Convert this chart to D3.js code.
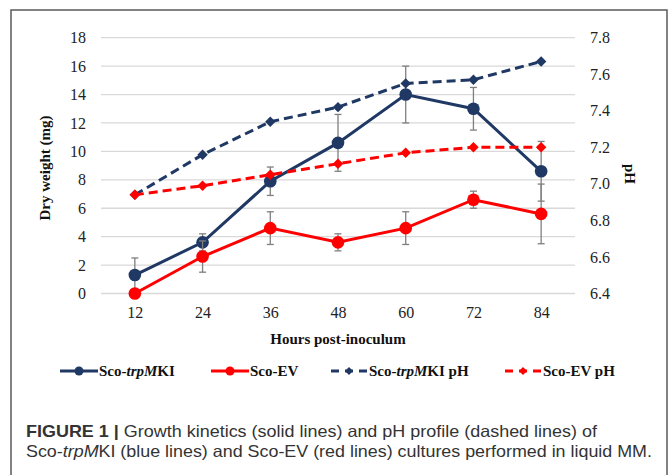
<!DOCTYPE html>
<html>
<head>
<meta charset="utf-8">
<script src="https://cdnjs.cloudflare.com/ajax/libs/d3/7.8.5/d3.min.js"></script>
<style>
  body { margin: 0; background: #fff; }
  svg { display: block; }
</style>
</head>
<body>
<svg id="chart"></svg>
<script>
// Data
const hours = [12, 24, 36, 48, 60, 72, 84];
const trpDry = [1.3, 3.6, 7.9, 10.6, 14.0, 13.0, 8.6];
const trpErr = [1.2, 0.6, 1.0, 2.0, 2.0, 1.5, 2.1];
const evDry = [0.0, 2.6, 4.6, 3.6, 4.6, 6.6, 5.6];
const evErr = [0, 1.1, 1.15, 0.6, 1.15, 0.6, 2.1];
const trpPH = [6.94, 7.16, 7.34, 7.42, 7.55, 7.57, 7.67];
const evPH = [6.94, 6.99, 7.05, 7.11, 7.17, 7.20, 7.20];
const dryTicks = [0, 2, 4, 6, 8, 10, 12, 14, 16, 18];
const phTicks = [6.4, 6.6, 6.8, 7.0, 7.2, 7.4, 7.6, 7.8];

var width = 670;
var height = 475;
const navy = "#1f3864";
const red = "#ff0000";
const serif = "'Liberation Serif', 'Times New Roman', serif";

var svg = d3.select('#chart')
    .attr("width", width)
    .attr("height", height);

// outer frame
svg.append("rect")
    .attr("x", 11).attr("y", 10)
    .attr("width", 656).attr("height", 480)
    .attr("fill", "none")
    .attr("stroke", "#5a5a5a")
    .attr("stroke-width", 1.5);

var x = d3.scalePoint().domain(hours).range([101, 575]).padding(0.5);
var y = d3.scaleLinear().domain([0, 18]).range([293.5, 37.7]);
var yPH = d3.scaleLinear().domain([6.4, 7.8]).range([293.5, 37.7]);

// gridlines
svg.append("g").selectAll("line")
    .data(dryTicks)
    .join("line")
    .attr("x1", 101).attr("x2", 575)
    .attr("y1", d => y(d)).attr("y2", d => y(d))
    .attr("stroke", "#d9d9d9")
    .attr("stroke-width", 1.3);

// left axis
var leftAxis = svg.append("g")
    .attr("transform", "translate(94,0)")
    .call(d3.axisLeft(y).tickValues(dryTicks).tickSize(0).tickPadding(8));
// right axis
var rightAxis = svg.append("g")
    .attr("transform", "translate(581,0)")
    .call(d3.axisRight(yPH).tickValues(phTicks).tickSize(0).tickPadding(9).tickFormat(d3.format(".1f")));
// bottom axis
var bottomAxis = svg.append("g")
    .attr("transform", "translate(0,300)")
    .call(d3.axisBottom(x).tickSize(0).tickPadding(7));

[leftAxis, rightAxis, bottomAxis].forEach(a => {
    a.select(".domain").remove();
    a.attr("font-family", serif).attr("font-size", 16);
    a.selectAll("text")
        .attr("fill", "#222");
});

// axis titles
svg.append("text")
    .attr("transform", "translate(50,168) rotate(-90)")
    .attr("text-anchor", "middle")
    .attr("font-family", serif).attr("font-weight", "bold")
    .attr("font-size", "15px").attr("fill", "#111")
    .text("Dry weight (mg)");

svg.append("text")
    .attr("transform", "translate(625,174) rotate(90)")
    .attr("text-anchor", "middle")
    .attr("font-family", serif).attr("font-weight", "bold")
    .attr("font-size", "15px").attr("fill", "#111")
    .text("pH");

svg.append("text")
    .attr("x", 338).attr("y", 344)
    .attr("text-anchor", "middle")
    .attr("font-family", serif).attr("font-weight", "bold")
    .attr("font-size", "15px").attr("fill", "#111")
    .text("Hours post-inoculum");

// error bars
function errorBars(vals, errs) {
    var g = svg.append("g").attr("stroke", "#7f7f7f").attr("stroke-width", 1.3);
    hours.forEach((h, i) => {
        if (!errs[i]) return;
        var cx = x(h), top = y(vals[i] + errs[i]), bot = y(vals[i] - errs[i]);
        g.append("line").attr("x1", cx).attr("x2", cx).attr("y1", top).attr("y2", bot);
        g.append("line").attr("x1", cx - 3.5).attr("x2", cx + 3.5).attr("y1", top).attr("y2", top);
        g.append("line").attr("x1", cx - 3.5).attr("x2", cx + 3.5).attr("y1", bot).attr("y2", bot);
    });
}

var diamond = d3.symbol().type(d3.symbolDiamond2 || d3.symbolDiamond).size(70);

function series(vals, scale, color, dashed, marker) {
    var line = d3.line().x((d, i) => x(hours[i])).y(d => scale(d));
    svg.append("path")
        .datum(vals)
        .attr("d", line)
        .attr("fill", "none")
        .attr("stroke", color)
        .attr("stroke-width", 3)
        .attr("stroke-dasharray", dashed ? "9,5" : null);
    if (marker === "circle") {
        svg.append("g").selectAll("circle")
            .data(vals)
            .join("circle")
            .attr("cx", (d, i) => x(hours[i]))
            .attr("cy", d => scale(d))
            .attr("r", 6.3)
            .attr("fill", color);
    } else {
        svg.append("g").selectAll("path")
            .data(vals)
            .join("path")
            .attr("d", diamond)
            .attr("transform", (d, i) => "translate(" + x(hours[i]) + "," + scale(d) + ")")
            .attr("fill", color);
    }
}

errorBars(trpDry, trpErr);
series(trpDry, y, navy, false, "circle");
errorBars(evDry, evErr);
series(evDry, y, red, false, "circle");
series(trpPH, yPH, navy, true, "diamond");
series(evPH, yPH, red, true, "diamond");

// legend
const legendItems = [
    {pre: "Sco-", it: "trpM", post: "KI", color: navy, dashed: false, marker: "circle", x0: 60},
    {pre: "Sco-EV", it: "", post: "", color: red, dashed: false, marker: "circle", x0: 211},
    {pre: "Sco-", it: "trpM", post: "KI pH", color: navy, dashed: true, marker: "diamond", x0: 330},
    {pre: "Sco-EV pH", it: "", post: "", color: red, dashed: true, marker: "diamond", x0: 504}
];
var ly = 371;
legendItems.forEach(d => {
    var g = svg.append("g");
    g.append("line")
        .attr("x1", d.x0).attr("x2", d.x0 + 38)
        .attr("y1", ly).attr("y2", ly)
        .attr("stroke", d.color).attr("stroke-width", 3)
        .attr("stroke-dasharray", d.dashed ? "8,6" : null)
        .attr("stroke-dashoffset", d.dashed ? -1 : null);
    if (d.marker === "circle") {
        g.append("circle").attr("cx", d.x0 + 19).attr("cy", ly).attr("r", 4.5).attr("fill", d.color);
    } else {
        g.append("path").attr("d", d3.symbol().type(d3.symbolDiamond2 || d3.symbolDiamond).size(40))
            .attr("transform", "translate(" + (d.x0 + 19) + "," + ly + ")")
            .attr("fill", d.color);
    }
    var t = g.append("text")
        .attr("x", d.x0 + 39).attr("y", ly + 5)
        .attr("font-family", serif).attr("font-weight", "bold")
        .attr("font-size", "15px").attr("fill", "#111");
    t.append("tspan").text(d.pre);
    if (d.it) t.append("tspan").attr("font-style", "italic").text(d.it);
    if (d.post) t.append("tspan").text(d.post);
});

// caption, stretched to the widths seen in the figure
const sans = "'Liberation Sans', Arial, Helvetica, sans-serif";
function captionLine(yb, right, parts) {
    var t = svg.append("text")
        .attr("x", 26).attr("y", yb)
        .attr("font-family", sans).attr("font-size", "16.5px").attr("fill", "#333");
    parts.forEach(p => {
        var s = t.append("tspan").text(p.text);
        if (p.bold) s.attr("font-weight", "bold");
        if (p.italic) s.attr("font-style", "italic");
    });
    t.attr("textLength", right - 26).attr("lengthAdjust", "spacingAndGlyphs");
}
captionLine(437, 597, [
    {text: "FIGURE 1 | ", bold: true},
    {text: "Growth kinetics (solid lines) and pH profile (dashed lines) of"}
]);
captionLine(457, 652, [
    {text: "Sco-"},
    {text: "trpM", italic: true},
    {text: "KI (blue lines) and Sco-EV (red lines) cultures performed in liquid MM."}
]);
</script>
</body>
</html>
